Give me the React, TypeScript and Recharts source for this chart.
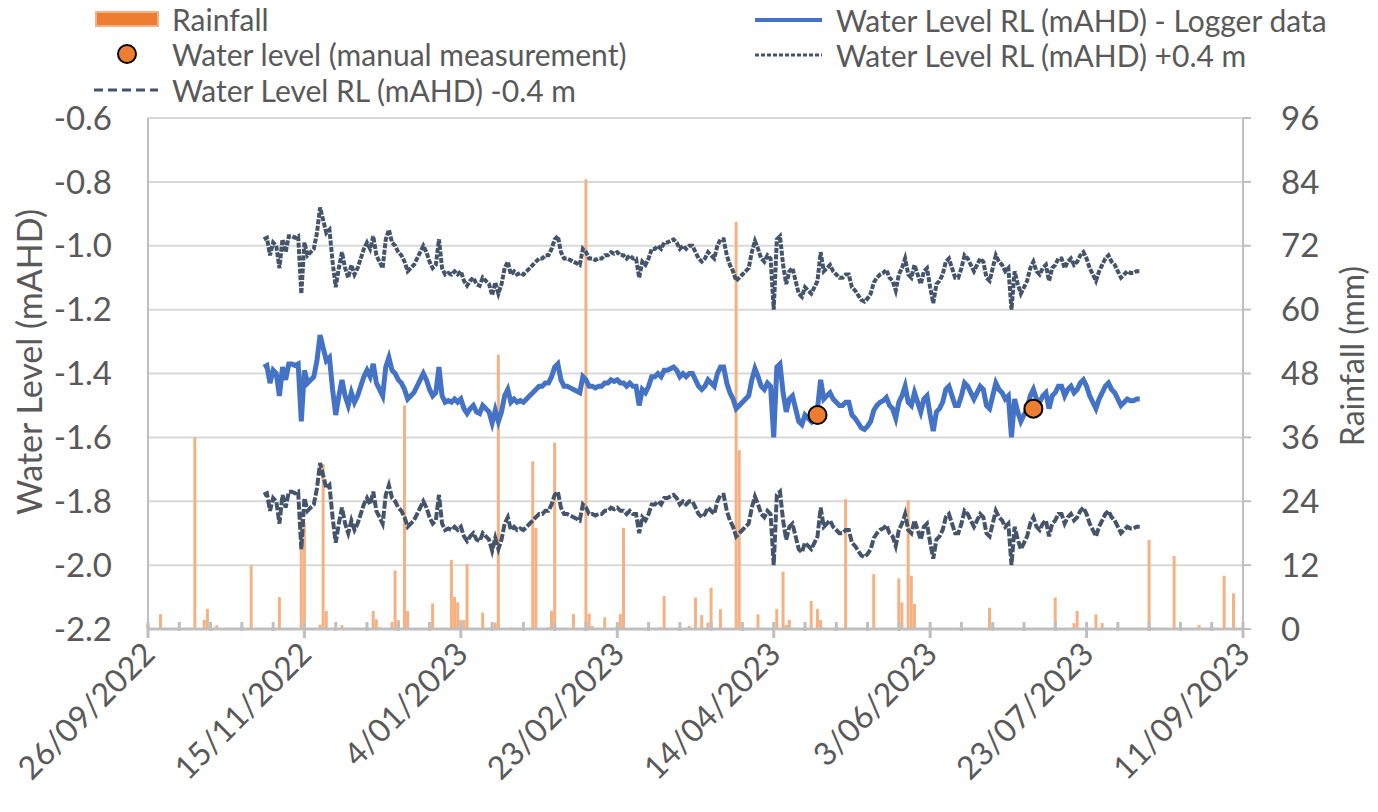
import { ComposedChart, Bar, Line, XAxis, YAxis, CartesianGrid } from 'recharts';

const FONT = 'Lato, "Open Sans", sans-serif';
const TEXT = '#595959';
const AXIS = '#BFBFBF';

// x axis: days since 26/09/2022
const xTickDays = [0, 50, 100, 150, 200, 250, 300, 350];
const xTickLabels = ['26/09/2022', '15/11/2022', '4/01/2023', '23/02/2023', '14/04/2023', '3/06/2023', '23/07/2023', '11/09/2023'];
const minorTickDays = Array.from({ length: 36 }, (_, i) => i * 10);

const levelTicks = [-2.2, -2.0, -1.8, -1.6, -1.4, -1.2, -1.0, -0.8, -0.6];
const rainTicks = [0, 12, 24, 36, 48, 60, 72, 84, 96];

// daily rainfall (mm)
const rainDays = [0, 4, 15, 18, 19, 22, 30, 33, 42, 49, 50, 55, 56, 57, 62, 72, 73, 74, 78, 79, 80, 82, 83, 91, 97, 98, 99, 100, 101, 102,
  107, 111, 112, 116, 123, 124, 128, 129, 130, 136, 140, 141, 142, 146, 151, 152, 164, 165, 173, 175, 177, 179, 180, 183, 188, 189,
  195, 201, 203, 204, 205, 212, 214, 215, 216, 223, 232, 240, 241, 243, 244, 245, 269, 271, 290, 296, 297, 303, 305, 320, 321, 328,
  336, 344, 347];
const rainMm = [0.8, 2.8, 36, 1.7, 3.8, 0.7, 0.4, 12, 6, 22, 20, 0.8, 31, 3.4, 0.7, 3.4, 1.8, 0.3, 1.3, 11, 1.7, 42, 3.4, 4.8, 13, 6, 5, 1.7, 1.7, 12.2,
  3.1, 1.2, 51.5, 0.3, 31.5, 19, 0.3, 3.4, 35, 2.8, 84.5, 2.9, 0.6, 2.2, 2.8, 19, 0.3, 6.2, 0.6, 5.9, 2.6, 1.2, 7.75, 3.7, 76.5, 33.6,
  2.75, 3.75, 10.8, 0.75, 1.7, 5.25, 3.75, 1.7, 0.25, 24.4, 10.3, 9.5, 5, 24.2, 10, 4.7, 4, 0.25, 5.9, 1.1, 3.4, 2.75, 1.1, 16.7, 0.25, 13.7,
  0.75, 10, 6.7];

// logger water level (mAHD), one value per day from levelStartDay
const levelStartDay = 37;
const levelValues = [
  -1.38, -1.375, -1.43, -1.39, -1.40, -1.47, -1.38, -1.42, -1.37, -1.37, -1.375, -1.37, -1.55, -1.39, -1.43, -1.42, -1.41, -1.36, -1.28, -1.32,
  -1.36, -1.35, -1.45, -1.53, -1.47, -1.42, -1.47, -1.50, -1.46, -1.49, -1.47, -1.44, -1.41, -1.39, -1.41, -1.37, -1.43, -1.45, -1.47, -1.38,
  -1.35, -1.39, -1.40, -1.42, -1.43, -1.45, -1.48, -1.47, -1.46, -1.44, -1.42, -1.40, -1.42, -1.45, -1.47, -1.46, -1.38, -1.47, -1.49, -1.485,
  -1.49, -1.48, -1.49, -1.48, -1.51, -1.525, -1.51, -1.50, -1.52, -1.525,
  -1.50, -1.51, -1.52, -1.555, -1.515, -1.55, -1.52, -1.47, -1.45, -1.49, -1.48, -1.49, -1.485, -1.49, -1.48, -1.47, -1.46, -1.45, -1.44, -1.44,
  -1.43, -1.43, -1.41, -1.38, -1.37, -1.42, -1.44, -1.44, -1.445, -1.45, -1.455, -1.46, -1.41, -1.42, -1.44, -1.44, -1.445, -1.44, -1.44, -1.43,
  -1.43, -1.42, -1.425, -1.42, -1.43, -1.43, -1.44, -1.43, -1.44, -1.44, -1.50, -1.45, -1.46, -1.44, -1.41, -1.41, -1.40, -1.41, -1.39, -1.39,
  -1.385, -1.38, -1.39, -1.41, -1.40, -1.41, -1.40, -1.40, -1.42,
  -1.44, -1.45, -1.44, -1.42, -1.43, -1.44, -1.40, -1.38, -1.38, -1.43, -1.46, -1.48, -1.51, -1.50, -1.49, -1.48, -1.47, -1.42, -1.385, -1.41,
  -1.44, -1.45, -1.43, -1.44, -1.60, -1.38, -1.37, -1.46, -1.52, -1.48, -1.47, -1.51, -1.55, -1.56, -1.53, -1.54, -1.55, -1.53, -1.51, -1.42,
  -1.48, -1.47, -1.46, -1.48, -1.49, -1.50, -1.50, -1.49, -1.49, -1.53, -1.54, -1.555, -1.57, -1.575, -1.565, -1.55, -1.515, -1.50, -1.49, -1.485,
  -1.475, -1.50, -1.51, -1.54, -1.49, -1.47, -1.44, -1.49, -1.50, -1.46, -1.49,
  -1.52, -1.48, -1.47, -1.53, -1.58, -1.52, -1.51, -1.49, -1.45, -1.44, -1.47, -1.50, -1.50, -1.47, -1.43, -1.44, -1.46, -1.48, -1.46, -1.44,
  -1.45, -1.50, -1.51, -1.47, -1.43, -1.45, -1.46, -1.48, -1.47, -1.60, -1.48, -1.52, -1.55, -1.53, -1.51, -1.47, -1.45, -1.48, -1.49, -1.47,
  -1.46, -1.51, -1.47, -1.46, -1.44, -1.44, -1.47, -1.45, -1.44, -1.46, -1.45, -1.43, -1.42, -1.44, -1.47, -1.49, -1.51, -1.48, -1.46, -1.44,
  -1.43, -1.45, -1.46, -1.48, -1.50, -1.49, -1.48, -1.485, -1.485, -1.48, -1.48,
];

// manual measurements
const manualDays = [214, 283];
const manualLevels = [-1.53, -1.51];

const OFFSET = 0.4;

const data = Array.from({ length: 351 }, (_, day) => {
  const li = day - levelStartDay;
  const level = li >= 0 && li < levelValues.length ? levelValues[li] : null;
  const ri = rainDays.indexOf(day);
  const mi = manualDays.indexOf(day);
  return {
    day,
    rain: ri >= 0 ? rainMm[ri] : null,
    level,
    plus: level == null ? null : level + OFFSET,
    minus: level == null ? null : level - OFFSET,
    manual: mi >= 0 ? manualLevels[mi] : null,
  };
});

function XTick(props: any) {
  const { x, y, payload } = props;
  const v = payload.value;
  const idx = xTickDays.indexOf(v);
  if (idx < 0) {
    return <line x1={x} x2={x} y1={y - 9} y2={y} stroke={AXIS} strokeWidth={3} />;
  }
  return (
    <g>
      <line x1={x} x2={x} y1={y - 9} y2={y + 7} stroke={AXIS} strokeWidth={3} />
      <text x={x + 9} y={y + 25} transform={`rotate(-45 ${x + 9} ${y + 25})`} textAnchor="end"
        fill={TEXT} fontSize={32} fontFamily={FONT}>{xTickLabels[idx]}</text>
    </g>
  );
}

function ManualDot(props: any) {
  const { cx, cy, index } = props;
  if (typeof cy !== 'number' || Number.isNaN(cy)) return <g key={`m-${index}`} />;
  return <circle key={`m-${index}`} cx={cx} cy={cy} r={9} fill="#ED7D31" stroke="#000" strokeWidth={2} />;
}

export default function App() {
  return (
    <div style={{ position: 'absolute', left: 0, top: 0, width: 1378, height: 812, background: '#fff' }}>
      <ComposedChart width={1378} height={812} data={data} margin={{ top: 118, right: 0, bottom: 0, left: 0 }}>
        <CartesianGrid yAxisId="left" vertical={false} stroke="#D9D9D9" strokeWidth={2} />
        <XAxis dataKey="day" type="number" domain={[0, 350]} ticks={minorTickDays} interval={0} height={183}
          tickSize={0} tickLine={false} tick={XTick} axisLine={{ stroke: AXIS, strokeWidth: 3 }} />
        <YAxis yAxisId="left" domain={[-2.2, -0.6]} ticks={levelTicks} interval={0} width={148} tickSize={0} tickMargin={36}
          tickLine={false} axisLine={{ stroke: AXIS, strokeWidth: 2 }} tickFormatter={(v: number) => v.toFixed(1)}
          tick={{ fill: TEXT, fontSize: 33, fontFamily: FONT }} allowDataOverflow />
        <YAxis yAxisId="right" orientation="right" domain={[0, 96]} ticks={rainTicks} interval={0} width={135} tickSize={8}
          tickMargin={30} tickLine={{ stroke: AXIS, strokeWidth: 2 }} axisLine={{ stroke: AXIS, strokeWidth: 2 }}
          tick={{ fill: TEXT, fontSize: 33, fontFamily: FONT, textAnchor: 'start' }} />
        <Line yAxisId="left" dataKey="plus" stroke="#44546A" strokeWidth={4} strokeDasharray="5 1.5" dot={false}
          activeDot={false} isAnimationActive={false} />
        <Line yAxisId="left" dataKey="minus" stroke="#44546A" strokeWidth={4} strokeDasharray="8 2" dot={false}
          activeDot={false} isAnimationActive={false} />
        <Line yAxisId="left" dataKey="level" stroke="#4472C4" strokeWidth={5} dot={false}
          activeDot={false} isAnimationActive={false} />
        <Bar yAxisId="right" dataKey="rain" fill="#F4B183" barSize={3} isAnimationActive={false} />
        <Line yAxisId="left" dataKey="manual" stroke="none" dot={ManualDot} activeDot={false} isAnimationActive={false} />
      </ComposedChart>
      <svg width={1378} height={812} style={{ position: 'absolute', left: 0, top: 0, pointerEvents: 'none' }}
        fontFamily={FONT} fill={TEXT}>
        <g fontSize={30} dominantBaseline="central">
          <rect x={96} y={12} width={62} height={14} fill="#ED7D31" stroke="#F4B183" strokeWidth={2} />
          <text x={172} y={19}>Rainfall</text>
          <circle cx={127} cy={54} r={9} fill="#ED7D31" stroke="#000" strokeWidth={2} />
          <text x={172} y={54}>Water level (manual measurement)</text>
          <line x1={94} x2={158} y1={90} y2={90} stroke="#44546A" strokeWidth={3} strokeDasharray="9 5" />
          <text x={172} y={90}>Water Level RL (mAHD) -0.4 m</text>
          <line x1={755} x2={822} y1={20} y2={20} stroke="#4472C4" strokeWidth={4} />
          <text x={836} y={20}>Water Level RL (mAHD) - Logger data</text>
          <line x1={755} x2={822} y1={55} y2={55} stroke="#44546A" strokeWidth={3} strokeDasharray="4 2" />
          <text x={836} y={55}>Water Level RL (mAHD) +0.4 m</text>
        </g>
        <text x={28} y={362} transform="rotate(-90 28 362)" textAnchor="middle" dominantBaseline="central" fontSize={34}>
          Water Level (mAHD)
        </text>
        <text x={1351} y={356} transform="rotate(-90 1351 356)" textAnchor="middle" dominantBaseline="central" fontSize={32}>
          Rainfall (mm)
        </text>
      </svg>
    </div>
  );
}
